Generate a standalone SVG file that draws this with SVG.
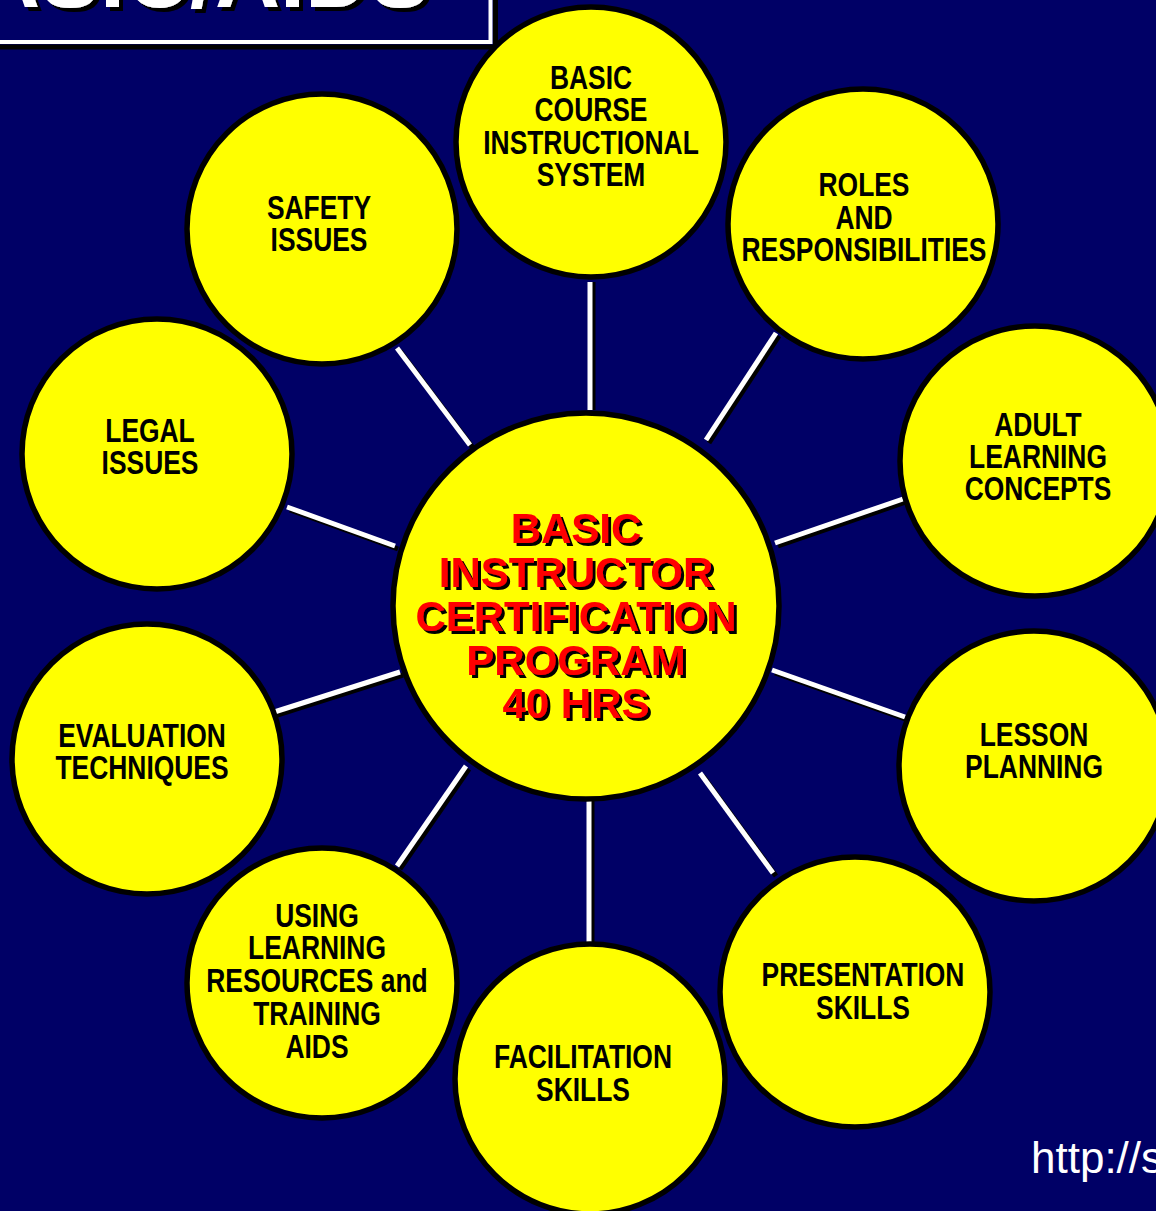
<svg xmlns="http://www.w3.org/2000/svg" width="1156" height="1211" viewBox="0 0 1156 1211">
<defs>
<filter id="shadow3" x="-10%" y="-10%" width="130%" height="140%">
<feFlood flood-color="#000000" result="blk"/>
<feComposite in="blk" in2="SourceAlpha" operator="in" result="sh"/>
<feOffset in="sh" dx="3" dy="3" result="off"/>
<feMerge><feMergeNode in="off"/><feMergeNode in="SourceGraphic"/></feMerge>
</filter>
<filter id="shadow4" x="-10%" y="-50%" width="130%" height="250%">
<feFlood flood-color="#000000" result="blk"/>
<feComposite in="blk" in2="SourceAlpha" operator="in" result="sh"/>
<feOffset in="sh" dx="4" dy="4" result="off"/>
<feMerge><feMergeNode in="off"/><feMergeNode in="SourceGraphic"/></feMerge>
</filter>
</defs>
<style>
.bg{fill:#000066}
.node{fill:#ffff00;stroke:#000000;stroke-width:5.5}
.cw{stroke:#ffffff;stroke-width:5;fill:none}
.cs{stroke:#000000;stroke-width:5;fill:none}
.t{font-family:"Liberation Sans",Arial,sans-serif;font-weight:bold;font-size:33px;fill:#000000;text-anchor:middle}
.ct{font-family:"Liberation Sans",Arial,sans-serif;font-weight:bold;font-size:42px;text-anchor:middle;fill:#ff0000}
.title{font-family:"Liberation Sans",Arial,sans-serif;font-weight:bold;font-size:90px;fill:#ffffff}
</style>
<rect class="bg" x="0" y="0" width="1156" height="1211"/>
<g id="title-box">
<rect x="-5" y="-5" width="500.5" height="52" fill="none" stroke="#000000" stroke-width="5"/>
<rect x="-10" y="-10" width="500.5" height="52" fill="none" stroke="#ffffff" stroke-width="4"/>
<text class="title" x="-25" y="7" filter="url(#shadow4)">ASIC/AIDS</text>
</g>
<g id="connectors">
<line class="cs" x1="593" y1="282" x2="593" y2="410"/>
<line class="cw" x1="590" y1="282" x2="590" y2="410"/>
<line class="cs" x1="779" y1="336" x2="709" y2="443"/>
<line class="cw" x1="776" y1="333" x2="706" y2="440"/>
<line class="cs" x1="778" y1="546" x2="906" y2="502"/>
<line class="cw" x1="775" y1="543" x2="903" y2="499"/>
<line class="cs" x1="775" y1="673" x2="908" y2="720"/>
<line class="cw" x1="772" y1="670" x2="905" y2="717"/>
<line class="cs" x1="703" y1="776" x2="776" y2="876"/>
<line class="cw" x1="700" y1="773" x2="773" y2="873"/>
<line class="cs" x1="592" y1="797" x2="592" y2="942"/>
<line class="cw" x1="589" y1="797" x2="589" y2="942"/>
<line class="cs" x1="469" y1="769" x2="400" y2="869"/>
<line class="cw" x1="466" y1="766" x2="397" y2="866"/>
<line class="cs" x1="271" y1="717" x2="403" y2="675"/>
<line class="cw" x1="268" y1="714" x2="400" y2="672"/>
<line class="cs" x1="290" y1="510" x2="398" y2="549"/>
<line class="cw" x1="287" y1="507" x2="395" y2="546"/>
<line class="cs" x1="400" y1="351" x2="473" y2="448"/>
<line class="cw" x1="397" y1="348" x2="470" y2="445"/>
</g>
<g id="node-center">
<circle class="node" cx="586" cy="606" r="193"/>
<text class="ct" filter="url(#shadow3)"><tspan x="576" y="543">BASIC</tspan><tspan x="576" y="587">INSTRUCTOR</tspan><tspan x="576" y="631">CERTIFICATION</tspan><tspan x="576" y="675">PROGRAM</tspan><tspan x="576" y="718">40 HRS</tspan></text>
</g>
<g id="node-basic-course">
<circle class="node" cx="591" cy="142" r="135"/>
<text class="t" transform="matrix(0.8 0 0 1 591 0)"><tspan x="0" y="89">BASIC</tspan><tspan x="0" y="121">COURSE</tspan><tspan x="0" y="154">INSTRUCTIONAL</tspan><tspan x="0" y="186">SYSTEM</tspan></text>
</g>
<g id="node-roles">
<circle class="node" cx="863" cy="224" r="135"/>
<text class="t" transform="matrix(0.8 0 0 1 864 0)"><tspan x="0" y="196">ROLES</tspan><tspan x="0" y="229">AND</tspan><tspan x="0" y="261">RESPONSIBILITIES</tspan></text>
</g>
<g id="node-adult">
<circle class="node" cx="1035" cy="461" r="135"/>
<text class="t" transform="matrix(0.8 0 0 1 1038 0)"><tspan x="0" y="436">ADULT</tspan><tspan x="0" y="468">LEARNING</tspan><tspan x="0" y="500">CONCEPTS</tspan></text>
</g>
<g id="node-lesson">
<circle class="node" cx="1034" cy="766" r="135"/>
<text class="t" transform="matrix(0.8 0 0 1 1034 0)"><tspan x="0" y="746">LESSON</tspan><tspan x="0" y="778">PLANNING</tspan></text>
</g>
<g id="node-presentation">
<circle class="node" cx="855" cy="992" r="135"/>
<text class="t" transform="matrix(0.8 0 0 1 863 0)"><tspan x="0" y="986">PRESENTATION</tspan><tspan x="0" y="1019">SKILLS</tspan></text>
</g>
<g id="node-facilitation">
<circle class="node" cx="590" cy="1079" r="135"/>
<text class="t" transform="matrix(0.8 0 0 1 583 0)"><tspan x="0" y="1068">FACILITATION</tspan><tspan x="0" y="1101">SKILLS</tspan></text>
</g>
<g id="node-using">
<circle class="node" cx="322" cy="983" r="135"/>
<text class="t" transform="matrix(0.8 0 0 1 317 0)"><tspan x="0" y="927">USING</tspan><tspan x="0" y="959">LEARNING</tspan><tspan x="0" y="992">RESOURCES and</tspan><tspan x="0" y="1025">TRAINING</tspan><tspan x="0" y="1058">AIDS</tspan></text>
</g>
<g id="node-evaluation">
<circle class="node" cx="147" cy="759" r="135"/>
<text class="t" transform="matrix(0.8 0 0 1 142 0)"><tspan x="0" y="747">EVALUATION</tspan><tspan x="0" y="779">TECHNIQUES</tspan></text>
</g>
<g id="node-legal">
<circle class="node" cx="157" cy="454" r="135"/>
<text class="t" transform="matrix(0.8 0 0 1 150 0)"><tspan x="0" y="442">LEGAL</tspan><tspan x="0" y="474">ISSUES</tspan></text>
</g>
<g id="node-safety">
<circle class="node" cx="322" cy="229" r="135"/>
<text class="t" transform="matrix(0.8 0 0 1 319 0)"><tspan x="0" y="219">SAFETY</tspan><tspan x="0" y="251">ISSUES</tspan></text>
</g>
<text x="1031" y="1173" font-family="'Liberation Sans',Arial,sans-serif" font-size="44" fill="#ffffff">http://s</text>
</svg>
